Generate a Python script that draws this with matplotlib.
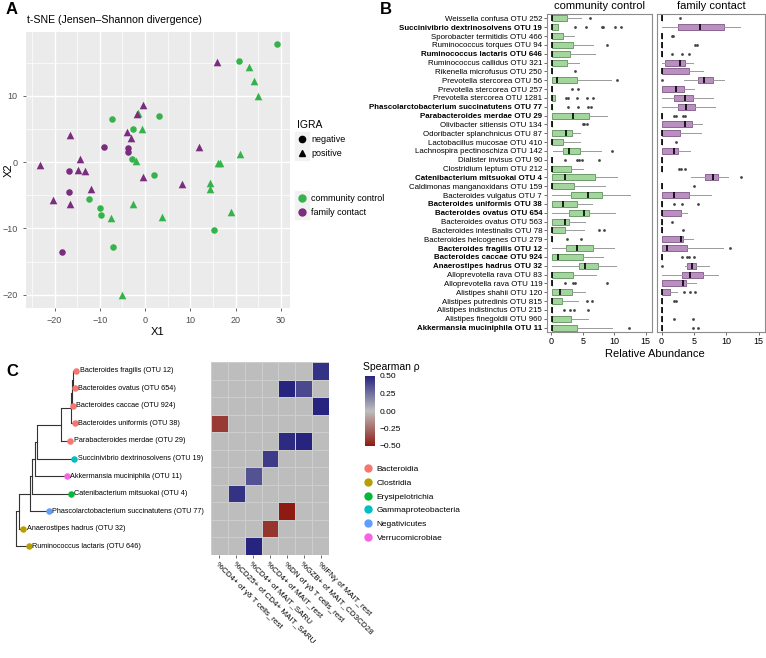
import numpy as np
import matplotlib
matplotlib.use("Agg")
import matplotlib.pyplot as plt
from matplotlib.lines import Line2D
from matplotlib.legend_handler import HandlerTuple
from matplotlib.colors import LinearSegmentedColormap

plt.rcParams['font.family'] = ['Liberation Sans', 'DejaVu Sans']

# ---------------- panel A: t-SNE points ----------------
cc_neg_x = [29.1, 20.7, 3.15, -7.25, -2.6, -2.85, 2.05, -12.4, -10.0, -9.7, -7.1, 15.3]
cc_neg_y = [17.9, 15.3, 6.9, 6.5, 5.0, 0.5, -1.86, -5.6, -6.85, -7.9, -12.8, -10.3]
cc_pos_x = [22.9, 24.1, 24.9, -1.5, -0.6, -1.9, 20.9, 16.0, 16.6, 14.3, 14.3, -2.7, -7.5, 3.8, 18.9, -5.2]
cc_pos_y = [14.3, 12.3, 10.0, 7.5, 5.0, 0.25, 1.3, -0.15, -0.15, -3.1, -4.0, -6.35, -8.4, -8.3, -7.5, -20.1]
fc_neg_x = [-9.1, -3.8, -3.7, -16.9, -16.7, -18.4]
fc_neg_y = [2.3, 2.1, 1.5, -1.4, -4.5, -13.6]
fc_pos_x = [15.8, -0.4, -1.75, -4.0, -3.15, -16.5, -23.3, -14.4, -14.9, -13.3, -11.9, -20.3, -16.6, -0.4, 11.8, 8.2]
fc_pos_y = [15.1, 8.7, 7.25, 4.5, 3.7, 4.1, -0.4, 0.45, -1.1, -1.3, -4.1, -5.7, -6.35, -2.2, 2.3, -3.3]

# ---------------- panel B: box statistics ----------------
taxa = [
    "Weissella confusa OTU 252", "Succinivibrio dextrinosolvens OTU 19", "Sporobacter termitidis OTU 466",
    "Ruminococcus torques OTU 94", "Ruminococcus lactaris OTU 646", "Ruminococcus callidus OTU 321",
    "Rikenella microfusus OTU 250", "Prevotella stercorea OTU 56", "Prevotella stercorea OTU 257",
    "Prevotella stercorea OTU 1281", "Phascolarctobacterium succinatutens OTU 77", "Parabacteroides merdae OTU 29",
    "Olivibacter sitiensis OTU 134", "Odoribacter splanchnicus OTU 87", "Lactobacillus mucosae OTU 410",
    "Lachnospira pectinoschiza OTU 142", "Dialister invisus OTU 90", "Clostridium leptum OTU 212",
    "Catenibacterium mitsuokai OTU 4", "Caldimonas manganoxidans OTU 159", "Bacteroides vulgatus OTU 7",
    "Bacteroides uniformis OTU 38", "Bacteroides ovatus OTU 654", "Bacteroides ovatus OTU 563",
    "Bacteroides intestinalis OTU 78", "Bacteroides helcogenes OTU 279", "Bacteroides fragilis OTU 12",
    "Bacteroides caccae OTU 924", "Anaerostipes hadrus OTU 32", "Alloprevotella rava OTU 83",
    "Alloprevotella rava OTU 119", "Alistipes shahii OTU 120", "Alistipes putredinis OTU 815",
    "Alistipes indistinctus OTU 215", "Alistipes finegoldii OTU 960", "Akkermansia muciniphila OTU 11",
]
bold_taxa = [1, 4, 10, 11, 18, 21, 22, 26, 27, 28, 35]

Z = 0.05
cc_q1 = [Z, Z, Z, Z, Z, Z, Z, Z, Z, Z, Z, Z, Z, Z, Z, 1.85, Z, Z,
         Z, Z, 3.15, Z, 2.8, Z, Z, Z, 2.25, Z, 4.4, Z, Z, Z, Z, Z, Z, Z]
cc_med = [Z, Z, Z, Z, Z, Z, Z, 0.9, Z, Z, Z, 3.4, Z, 2.25, Z, 2.8, Z, Z,
          2.2, Z, 5.8, 1.85, 5.15, 2.1, Z, Z, 4.0, 1.05, 5.4, Z, Z, 1.4, Z, Z, Z, Z]
cc_q3 = [2.5, 1.05, 1.85, 3.45, 3.0, 2.45, Z, 4.05, Z, 0.6, Z, 5.95, Z, 3.25, 1.85, 4.5, Z, 3.15,
         6.9, 3.6, 8.1, 4.05, 6.0, 2.8, 2.2, Z, 6.6, 5.05, 7.4, 3.45, Z, 3.25, 1.75, Z, 3.05, 4.05]
cc_lo = [Z, Z, Z, Z, Z, Z, Z, Z, Z, Z, Z, Z, Z, Z, Z, 0.25, Z, Z,
         Z, Z, Z, Z, Z, Z, Z, Z, Z, Z, Z, Z, Z, Z, Z, Z, Z, Z]
cc_hi = [4.7, 1.05, 3.6, 6.6, 6.95, 4.35, Z, 9.5, Z, 0.6, Z, 8.8, Z, 4.5, 4.5, 7.9, Z, 5.1,
         10.4, 8.6, 12.5, 6.4, 10.05, 5.4, 5.15, Z, 9.95, 8.2, 10.3, 7.1, Z, 5.4, 4.2, Z, 5.8, 9.6]
cc_out = [[6.2], [3.8, 5.5, 8.0, 8.2, 10.1, 11.0], [], [8.8], [], [], [3.7], [10.4], [3.3, 4.2],
          [2.25, 2.6, 4.1, 5.7, 6.6], [2.6, 4.2, 5.8, 6.3], [], [5.0, 5.25, 5.6], [], [], [9.7],
          [2.2, 4.0, 4.4, 4.8, 7.5], [], [], [], [], [], [], [], [7.5, 8.3], [2.5, 4.7], [], [], [], [],
          [2.2, 3.45, 3.8, 8.8], [], [5.7, 6.4], [2.05, 2.95, 3.6, 5.8], [], [12.4]]

fc_q1 = [Z, 2.55, Z, Z, Z, 0.55, Z, 5.6, Z, 2.0, 2.55, Z, Z, Z, Z, Z, Z, Z,
         6.75, Z, Z, Z, Z, Z, Z, Z, Z, Z, 4.0, 3.1, Z, Z, Z, Z, Z, Z]
fc_med = [Z, 5.9, Z, Z, Z, 2.8, Z, 6.6, 2.3, 3.7, 3.8, Z, 3.6, Z, Z, 1.9, Z, Z,
          7.9, Z, 2.0, Z, Z, Z, Z, 3.0, 0.8, Z, 4.7, 4.35, 3.35, Z, Z, Z, Z, Z]
fc_q3 = [Z, 9.6, Z, Z, Z, 3.6, 4.3, 8.0, 3.4, 4.85, 5.15, Z, 4.7, 2.9, Z, 2.55, Z, Z,
         8.7, Z, 4.25, Z, 3.0, Z, Z, 3.35, 3.9, Z, 5.3, 6.4, 3.8, 1.3, Z, Z, Z, Z]
fc_lo = [Z, Z, Z, Z, Z, Z, Z, 3.5, Z, Z, Z, Z, Z, Z, Z, Z, Z, Z,
         4.6, Z, Z, Z, Z, Z, Z, Z, Z, Z, 3.7, Z, Z, Z, Z, Z, Z, Z]
fc_hi = [Z, 12.2, Z, Z, Z, 4.9, 6.4, 9.6, 5.0, 8.0, 8.2, Z, 6.3, 6.1, Z, 4.4, Z, Z,
         10.3, Z, 7.7, Z, 4.0, Z, Z, 4.9, 9.5, Z, 7.3, 8.8, 5.3, 2.4, Z, Z, Z, Z]
fc_out = [[2.8], [], [1.55, 1.85], [5.2, 5.5], [1.55, 3.1, 4.25], [], [], [0.0], [], [], [],
          [2.0, 2.3, 3.3, 3.7], [], [], [2.2], [], [], [2.65, 3.0, 3.7], [12.3], [5.0], [],
          [2.0, 3.1, 5.7], [], [1.55], [3.3], [], [10.6], [3.1, 3.9, 4.2, 5.0], [0.0], [], [],
          [3.4, 4.4, 5.2], [2.0, 2.3], [], [1.9, 4.9], [4.9, 5.6]]

# ---------------- panel C: tree + heatmap ----------------
leaves = ["Bacteroides fragilis (OTU 12)", "Bacteroides ovatus (OTU 654)", "Bacteroides caccae (OTU 924)",
          "Bacteroides uniformis (OTU 38)", "Parabacteroides merdae (OTU 29)",
          "Succinivibrio dextrinosolvens (OTU 19)", "Akkermansia muciniphila (OTU 11)",
          "Catenibacterium mitsuokai (OTU 4)", "Phascolarctobacterium succinatutens (OTU 77)",
          "Anaerostipes hadrus (OTU 32)", "Ruminococcus lactaris (OTU 646)"]
leaf_class = ["Bacteroidia", "Bacteroidia", "Bacteroidia", "Bacteroidia", "Bacteroidia",
              "Gammaproteobacteria", "Verrucomicrobiae", "Erysipelotrichia", "Negativicutes",
              "Clostridia", "Clostridia"]
leaf_depth = [76, 75, 73, 75, 70.3, 74.3, 67, 70.7, 49, 23.3, 28.7]
# internal nodes: name, depth, children (int = leaf index, str = node)
nodes = [("B3", 72.7, [0, 1]), ("B2", 71.7, ["B3", 2]), ("B1", 71.0, ["B2", 3]),
         ("N7", 61.0, ["B1", 4]), ("N6", 36.7, ["N7", 5]), ("N5", 35.0, ["N6", 6]),
         ("N4", 32.3, ["N5", 7]), ("N3", 30.0, ["N4", 8]), ("N2", 19.0, ["N3", 9]),
         ("root", 16.0, ["N2", 10])]

classes = ["Bacteroidia", "Clostridia", "Erysipelotrichia", "Gammaproteobacteria", "Negativicutes", "Verrucomicrobiae"]
class_colors = ["#F8766D", "#B79F00", "#00BA38", "#00BFC4", "#619CFF", "#F564E3"]

measures = ["%CD4+ of γδ T cells_rest", "%CD25+ of CD4+ MAIT_SARU", "%CD4+ of MAIT_SARU",
            "%CD4+ of MAIT_rest", "%DN of γδ T cells_rest", "%GZB+ of MAIT_CD3CD28", "%IFNγ of MAIT_rest"]
heat_row = [0, 1, 1, 2, 3, 4, 4, 5, 6, 7, 8, 9, 10]
heat_col = [6, 4, 5, 6, 0, 4, 5, 3, 2, 1, 4, 3, 2]
heat_rho = [0.45, 0.5, 0.38, 0.5, -0.4, 0.48, 0.5, 0.42, 0.35, 0.45, -0.5, -0.42, 0.5]

# ---------------- figure ----------------
W, H = 766, 658
fig = plt.figure(figsize=(W / 100, H / 100), dpi=100)


def px(l, t, r, b):
    return [l / W, 1 - b / H, (r - l) / W, (b - t) / H]


green = "#35B34A"
purple = "#7A2C7E"

# panel A
axA = fig.add_axes(px(26, 32, 290, 308))
axA.set_facecolor("#EBEBEB")
axA.scatter(cc_neg_x, cc_neg_y, s=22, marker="o", color=green, zorder=3, linewidths=0)
axA.scatter(cc_pos_x, cc_pos_y, s=30, marker="^", color=green, zorder=3, linewidths=0)
axA.scatter(fc_neg_x, fc_neg_y, s=22, marker="o", color=purple, zorder=4, linewidths=0)
axA.scatter(fc_pos_x, fc_pos_y, s=30, marker="^", color=purple, zorder=4, linewidths=0)
axA.set_xlim(-26.3, 32)
axA.set_ylim(-22, 19.65)
axA.set_xticks([-20, -10, 0, 10, 20, 30])
axA.set_yticks([-20, -10, 0, 10])
axA.set_xticks([-25, -15, -5, 5, 15, 25], minor=True)
axA.set_yticks([-15, -5, 5, 15], minor=True)
axA.grid(which="major", color="white", linewidth=1.0)
axA.grid(which="minor", color="white", linewidth=0.5)
axA.set_axisbelow(True)
for s in axA.spines.values():
    s.set_visible(False)
axA.tick_params(which="major", labelsize=6.5, labelcolor="#4D4D4D", color="#4D4D4D", length=2.5, width=0.6)
axA.tick_params(which="minor", length=0)
axA.set_xlabel("X1", fontsize=8, labelpad=1)
axA.set_ylabel("X2", fontsize=8)
axA.yaxis.set_label_coords(-0.045, 0.5)
fig.text(27 / W, 1 - 20 / H, "t-SNE (Jensen–Shannon divergence)", fontsize=7.6, va="center", ha="left")

keybg = dict(marker="s", markersize=10, color="#F2F2F2", linestyle="none")
h_neg = (Line2D([], [], **keybg), Line2D([], [], marker="o", color="black", markersize=4.5, linestyle="none"))
h_pos = (Line2D([], [], **keybg), Line2D([], [], marker="^", color="black", markersize=5, linestyle="none"))
fig.legend([h_neg, h_pos], ["negative", "positive"], title="IGRA", loc="upper left",
           bbox_to_anchor=(297 / W, 1 - 120 / H), frameon=False, fontsize=6.5, title_fontsize=7.5,
           handler_map={tuple: HandlerTuple(ndivide=1)}, handlelength=1.2, handletextpad=0.4,
           labelspacing=0.55, alignment="left", borderaxespad=0, borderpad=0)
h_cc = (Line2D([], [], **keybg), Line2D([], [], marker="o", color=green, markersize=5, linestyle="none"))
h_fc = (Line2D([], [], **keybg), Line2D([], [], marker="o", color=purple, markersize=5, linestyle="none"))
fig.legend([h_cc, h_fc], ["community control", "family contact"], loc="upper left",
           bbox_to_anchor=(297 / W, 1 - 194 / H), frameon=False, fontsize=6.5,
           handler_map={tuple: HandlerTuple(ndivide=1)}, handlelength=1.2, handletextpad=0.4,
           labelspacing=0.55, borderaxespad=0, borderpad=0)

# panel B
pos = np.arange(1, len(taxa) + 1)


def draw_boxes(ax, q1, med, q3, lo, hi, out, fill, edge):
    stats = [dict(q1=a, med=m, q3=b, whislo=l, whishi=h, fliers=f)
             for a, m, b, l, h, f in zip(q1, med, q3, lo, hi, out)]
    ax.bxp(stats, positions=pos, orientation="horizontal", widths=0.68, patch_artist=True,
           showcaps=False,
           boxprops=dict(facecolor=fill, edgecolor=edge, linewidth=0.6),
           medianprops=dict(color="black", linewidth=1.2),
           whiskerprops=dict(color="#9A9A9A", linewidth=0.7),
           flierprops=dict(marker="o", markersize=2, markerfacecolor="#444444", markeredgecolor="none"))
    ax.set_xlim(-0.7, 16)
    ax.set_ylim(36.5, 0.5)
    ax.set_xticks([0, 5, 10, 15])
    ax.set_xticklabels(["0", "5", "10", "15"])
    ax.tick_params(axis="x", labelsize=6.5, length=2, width=0.6, color="#555555", pad=1.5)
    for s in ax.spines.values():
        s.set_color("#8C8C8C")
        s.set_linewidth(0.8)


axB1 = fig.add_axes(px(547, 14, 652, 332))
axB2 = fig.add_axes(px(657, 14, 765, 332))
draw_boxes(axB1, cc_q1, cc_med, cc_q3, cc_lo, cc_hi, cc_out, "#A3D69C", "#5E8F5A")
draw_boxes(axB2, fc_q1, fc_med, fc_q3, fc_lo, fc_hi, fc_out, "#B98FBF", "#7E5686")
axB1.set_yticks(pos)
axB1.set_yticklabels(taxa)
axB1.tick_params(axis="y", labelsize=5.7, length=2, width=0.6, color="#555555", pad=1.5)
for i, lab in enumerate(axB1.get_yticklabels()):
    if i in bold_taxa:
        lab.set_fontweight("bold")
axB2.set_yticks([])
axB1.text(0.5, 1.01, "community control", transform=axB1.transAxes, ha="center", va="bottom", fontsize=8)
axB2.text(0.5, 1.01, "family contact", transform=axB2.transAxes, ha="center", va="bottom", fontsize=8)
fig.text(655 / W, 1 - 354 / H, "Relative Abundance", ha="center", va="center", fontsize=8)

# panel C tree
axT = fig.add_axes(px(0, 362, 211, 555))
axT.set_xlim(0, 211)
axT.set_ylim(11, 0)
axT.axis("off")
node_x = {}
node_y = {}
for i, d in enumerate(leaf_depth):
    node_x[i] = d
    node_y[i] = i + 0.5
for name, d, kids in nodes:
    ys = [node_y[k] for k in kids]
    node_x[name] = d
    node_y[name] = np.mean(ys)
    axT.plot([d, d], [min(ys), max(ys)], color="#333333", linewidth=0.8, solid_capstyle="butt")
    for k in kids:
        axT.plot([d, node_x[k]], [node_y[k], node_y[k]], color="#333333", linewidth=0.8)
for i, lab in enumerate(leaves):
    c = class_colors[classes.index(leaf_class[i])]
    axT.scatter(leaf_depth[i], i + 0.5, s=22, color=c, zorder=3, linewidths=0)
    axT.text(leaf_depth[i] + 3.5, i + 0.5, lab, fontsize=5.2, va="center", ha="left")

# heatmap
hm = np.zeros((len(leaves), len(measures)))
for r, c, v in zip(heat_row, heat_col, heat_rho):
    hm[r, c] = v
cmap = LinearSegmentedColormap.from_list("rho", ["#8E1B12", "#BEBEBE", "#26247F"])
axH = fig.add_axes(px(211, 362, 329, 555))
mesh = axH.pcolormesh(hm, cmap=cmap, vmin=-0.5, vmax=0.5, edgecolors="#CDCDCD", linewidth=0.4)
axH.set_xlim(0, len(measures))
axH.set_ylim(len(leaves), 0)
axH.set_yticks([])
axH.set_xticks(np.arange(len(measures)) + 0.5)
axH.set_xticklabels(measures, rotation=-45, ha="left", rotation_mode="anchor", fontsize=5.8)
axH.tick_params(axis="x", length=2, width=0.6, color="#555555", pad=2)
for s in axH.spines.values():
    s.set_visible(False)

caxC = fig.add_axes(px(365, 376, 375, 446))
cb = fig.colorbar(mesh, cax=caxC, ticks=[-0.5, -0.25, 0, 0.25, 0.5])
cb.ax.set_yticklabels(["−0.50", "−0.25", "0.00", "0.25", "0.50"])
cb.ax.tick_params(labelsize=6, length=2, color="white", pad=1.5)
cb.outline.set_visible(False)
fig.text(363 / W, 1 - 367 / H, "Spearman ρ", fontsize=7.5, ha="left", va="center")

class_handles = [Line2D([], [], marker="o", color=c, markersize=5, linestyle="none") for c in class_colors]
fig.legend(class_handles, classes, loc="upper left", bbox_to_anchor=(364 / W, 1 - 465 / H), frameon=False,
           fontsize=6, handlelength=1.0, handletextpad=0.5, labelspacing=0.72, borderaxespad=0, borderpad=0)

# panel letters
fig.text(6 / W, 1 - 10 / H, "A", fontsize=12, fontweight="bold", va="center")
fig.text(380 / W, 1 - 10 / H, "B", fontsize=12, fontweight="bold", va="center")
fig.text(6 / W, 1 - 372 / H, "C", fontsize=12, fontweight="bold", va="center")

fig.savefig("out.png", dpi=100)
